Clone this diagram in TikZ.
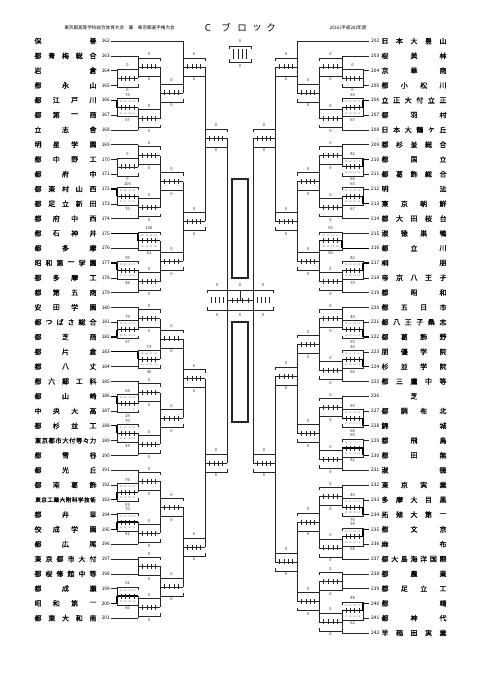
\documentclass[tikz,border=0pt]{standalone}
\usepackage{fontspec}
\newfontfamily\jp{Noto Sans CJK JP}
\newfontfamily\jpn{Noto Sans CJK JP}[FakeBold=0.6]
\tikzset{
 ln/.style={line width=0.45pt, draw=black!85},
 bl/.style={line width=1.3pt, draw=black},
 sc/.style={font=\jp\fontsize{4}{4}\selectfont, inner sep=0pt, text=black!85},
 num/.style={font=\jp\fontsize{4.8}{4.8}\selectfont, inner sep=0pt},
 qd/.style={font=\jp\fontsize{2.4}{2.4}\selectfont, inner sep=0pt, text=black!55},
 nmst/.style={font=\jpn\fontsize{7}{7}\selectfont, inner sep=0pt},
 champ/.style={line width=1.3pt, draw=black!85},
 hdr/.style={font=\jp\fontsize{4.6}{4.6}\selectfont, inner sep=0pt},
 ttl/.style={font=\jp\fontsize{9.5}{9.5}\selectfont, inner sep=0pt},
}
% spread name: x1, x2 (char centres), y, list of chars
\newcommand\nm[4]{%
  \gdef\nmcnt{0}%
  \foreach \cc in {#4}{\xdef\nmcnt{\the\numexpr\nmcnt+1\relax}}%
  \ifnum\nmcnt=1
    \node[nmst] at ({(#1+#2)/2},#3) {#4};%
  \else
    \pgfmathsetmacro\nmsp{(#2-#1)/(\nmcnt-1)}%
    \pgfmathsetmacro\nmfs{min(7,\nmsp*0.92)}%
    \foreach \cc [count=\ii from 0] in {#4}{\node[nmst,font=\jpn\fontsize{\nmfs}{\nmfs}\selectfont] at ({#1+\nmsp*\ii},#3) {\cc};}%
  \fi
}
% left entry: y, number, line end, bold, name
\newcommand\Lent[5]{%
  \nm{38}{93}{#1}{#5}%
  \node[num,anchor=east] at (110,#1) {#2};%
  \ifnum#4=1 \draw[bl] (111,#1) -- (#3,#1);\else \draw[ln] (111,#1) -- (#3,#1);\fi
}
% right entry
\newcommand\Rent[5]{%
  \nm{385}{443}{#1}{#5}%
  \node[num,anchor=west] at (371,#1) {#2};%
  \ifnum#4=1 \draw[bl] (369,#1) -- (#3,#1);\else \draw[ln] (369,#1) -- (#3,#1);\fi
}
% match: x of joining vertical, x of other end, y top, y bottom, y middle, score top, score bottom, winner (0/1/2)
\newcommand\Mt[8]{%
  \ifnum#8=1 \tikzset{sA/.style=bl,sM/.style=bl}\else\tikzset{sA/.style=ln}\fi
  \ifnum#8=2 \tikzset{sB/.style=bl,sM/.style=bl}\else\tikzset{sB/.style=ln}\fi
  \ifnum#8=0 \tikzset{sM/.style=ln}\fi
  \draw[sA] (#1,#3) -- (#1,#5);
  \draw[sB] (#1,#5) -- (#1,#4);
  \draw[sM] (#1,#5) -- (#2,#5);
  \foreach \f in {0.2,0.4,0.6,0.8}{\draw[ln] ({#1+(#2-#1)*\f},#5-2.5) -- ++(0,5);}
  \draw[ln] (#1,#5-6) |- (#2,#5-9) -- (#2,#5-6);
  \draw[ln] (#1,#5+6) |- (#2,#5+9) -- (#2,#5+6);
  \node[sc] at ({(#1+#2)/2},#5-12.5) {#6};
  \node[sc] at ({(#1+#2)/2},#5+12.5) {#7};
  \ifnum#8>0
    \pgfmathtruncatemacro\qa{#6/4}\pgfmathtruncatemacro\qd{#6-3*\qa}%
    \pgfmathtruncatemacro\qb{#7/4}\pgfmathtruncatemacro\qe{#7-3*\qb}%
    \foreach \f/\qq/\qr in {0.2/\qa/\qb,0.4/\qa/\qb,0.6/\qa/\qb,0.8/\qd/\qe}{%
      \node[qd] at ({#1+(#2-#1)*\f},#5-5.6) {\qq};
      \node[qd] at ({#1+(#2-#1)*\f},#5+5.6) {\qr};}%
  \fi
}
\begin{document}
\begin{tikzpicture}[x=1pt,y=-1pt]
\useasboundingbox (0,0) rectangle (481,680);
\fill[white] (0,0) rectangle (481,680);

% header
\node[hdr] (h1) at (119.5,28) {東京都高等学校総合体育大会　兼　東京都選手権大会};
\node[ttl] (t1) at (208,28) {C};
\node[ttl] (t2) at (226,28) {ブ};
\node[ttl] (t3) at (242,28) {ロ};
\node[ttl] (t4) at (257,28) {ッ};
\node[ttl] (t5) at (271,28) {ク};
\node[hdr] (h2) at (348,28) {2016(平成28)年度};

% legend box
\draw[ln] (229,49) |- (251,46) -- (251,49);
\draw[ln] (229,59) |- (251,62) -- (251,59);
\foreach \f in {0.2,0.4,0.6,0.8}{\draw[ln] ({229+22*\f},49) -- ++(0,10);}
\node[sc] (lg1) at (240,41.5) {0};
\node[sc] (lg2) at (240,66.5) {0};

% left entries
\Lent{41}{162}{183}{0}{保,善}
\Lent{55.8}{163}{138}{0}{都,青,梅,総,合}
\Lent{70.6}{164}{117}{0}{岩,倉}
\Lent{85.4}{165}{117}{0}{都,永,山}
\Lent{100.2}{166}{117}{1}{都,江,戸,川}
\Lent{115}{167}{117}{0}{都,第,一,商}
\Lent{129.8}{168}{138}{0}{立,志,舎}
\Lent{144.6}{169}{138}{0}{明,星,学,園}
\Lent{159.4}{170}{117}{0}{都,中,野,工}
\Lent{174.2}{171}{117}{0}{都,府,中}
\Lent{189}{172}{117}{1}{都,東,村,山,西}
\Lent{203.8}{173}{117}{0}{都,足,立,新,田}
\Lent{218.6}{174}{138}{0}{都,府,中,西}
\Lent{233.4}{175}{138}{1}{都,石,神,井}
\Lent{248.2}{176}{138}{0}{都,多,摩}
\Lent{263}{177}{117}{1}{昭,和,第,一,学,園}
\Lent{277.8}{178}{117}{0}{都,多,摩,工}
\Lent{292.6}{179}{138}{0}{都,第,五,商}
\Lent{307.4}{180}{138}{0}{安,田,学,園}
\Lent{322.2}{181}{117}{0}{都,つ,ば,さ,総,合}
\Lent{337}{182}{117}{1}{都,芝,商}
\Lent{351.8}{183}{138}{1}{都,片,倉}
\Lent{366.6}{184}{138}{0}{都,八,丈}
\Lent{381.4}{185}{138}{0}{都,六,郷,工,科}
\Lent{396.2}{186}{117}{1}{都,山,崎}
\Lent{411}{187}{117}{0}{中,央,大,高}
\Lent{425.8}{188}{117}{1}{都,杉,並,工}
\Lent{440.6}{189}{117}{0}{東,京,都,市,大,付,等,々,力}
\Lent{455.4}{190}{138}{0}{都,雪,谷}
\Lent{470.2}{191}{138}{0}{都,光,丘}
\Lent{485}{192}{117}{0}{都,南,葛,飾}
\Lent{499.8}{193}{117}{1}{東,京,工,業,大,附,科,学,技,術}
\Lent{514.6}{194}{117}{0}{都,井,草}
\Lent{529.4}{195}{117}{1}{佼,成,学,園}
\Lent{544.2}{196}{138}{0}{都,広,尾}
\Lent{559}{197}{138}{0}{東,京,都,市,大,付}
\Lent{573.8}{198}{138}{0}{都,桜,修,館,中,等}
\Lent{588.6}{199}{117}{0}{都,成,瀬}
\Lent{603.4}{200}{117}{1}{昭,和,第,一}
\Lent{618.2}{201}{138}{0}{都,東,大,和,南}

% right entries
\Rent{41}{202}{297}{0}{日,本,大,豊,山}
\Rent{55.8}{203}{342}{0}{桜,美,林}
\Rent{70.6}{204}{363}{0}{京,華,商}
\Rent{85.4}{205}{363}{0}{都,小,松,川}
\Rent{100.2}{206}{363}{1}{立,正,大,付,立,正}
\Rent{115}{207}{363}{0}{都,羽,村}
\Rent{129.8}{208}{342}{0}{日,本,大,鶴,ヶ,丘}
\Rent{144.6}{209}{342}{0}{都,杉,並,総,合}
\Rent{159.4}{210}{363}{1}{都,国,立}
\Rent{174.2}{211}{363}{0}{都,葛,飾,総,合}
\Rent{189}{212}{363}{0}{明,法}
\Rent{203.8}{213}{363}{1}{東,京,朝,鮮}
\Rent{218.6}{214}{342}{0}{都,大,田,桜,台}
\Rent{233.4}{215}{342}{0}{淑,徳,巣,鴨}
\Rent{248.2}{216}{342}{1}{都,立,川}
\Rent{263}{217}{363}{1}{桐,朋}
\Rent{277.8}{218}{363}{0}{帝,京,八,王,子}
\Rent{292.6}{219}{342}{0}{都,昭,和}
\Rent{307.4}{220}{342}{0}{都,五,日,市}
\Rent{322.2}{221}{363}{0}{都,八,王,子,桑,志}
\Rent{337}{222}{363}{1}{都,葛,飾,野}
\Rent{351.8}{223}{363}{0}{朋,優,学,院}
\Rent{366.6}{224}{363}{1}{杉,並,学,院}
\Rent{381.4}{225}{342}{0}{都,三,鷹,中,等}
\Rent{396.2}{226}{342}{0}{芝}
\Rent{411}{227}{363}{0}{都,調,布,北}
\Rent{425.8}{228}{363}{1}{錦,城}
\Rent{440.6}{229}{363}{0}{都,飛,鳥}
\Rent{455.4}{230}{363}{1}{都,田,無}
\Rent{470.2}{231}{342}{0}{淑,徳}
\Rent{485}{232}{342}{0}{東,京,実,業}
\Rent{499.8}{233}{363}{0}{多,摩,大,目,黒}
\Rent{514.6}{234}{363}{1}{拓,殖,大,第,一}
\Rent{529.4}{235}{363}{1}{都,文,京}
\Rent{544.2}{236}{363}{0}{麻,布}
\Rent{559}{237}{342}{0}{都,大,島,海,洋,国,際}
\Rent{573.8}{238}{342}{0}{都,農,業}
\Rent{588.6}{239}{342}{0}{都,足,立,工}
\Rent{603.4}{240}{363}{1}{都,靖}
\Rent{618.2}{241}{363}{0}{都,神,代}
\Rent{633}{242}{342}{0}{早,稲,田,実,業}

% left round 1
\Mt{117}{138}{70.6}{85.4}{78}{0}{0}{0}
\Mt{117}{138}{100.2}{115}{107.6}{75}{57}{1}
\Mt{117}{138}{159.4}{174.2}{166.8}{0}{0}{0}
\Mt{117}{138}{189}{203.8}{196.4}{100}{70}{1}
\Mt{117}{138}{263}{277.8}{270.4}{99}{46}{1}
\Mt{117}{138}{322.2}{337}{329.6}{75}{97}{2}
\Mt{117}{138}{396.2}{411}{403.6}{64}{29}{1}
\Mt{117}{138}{425.8}{440.6}{433.2}{70}{43}{1}
\Mt{117}{138}{485}{499.8}{492.4}{76}{83}{2}
\Mt{117}{138}{514.6}{529.4}{522}{70}{81}{2}
\Mt{117}{138}{588.6}{603.4}{596}{52}{60}{2}
% left round 2
\Mt{138}{160}{55.8}{78}{66.9}{0}{0}{0}
\Mt{138}{160}{107.6}{129.8}{118.7}{0}{0}{0}
\Mt{138}{160}{144.6}{166.8}{155.7}{0}{0}{0}
\Mt{138}{160}{196.4}{218.6}{207.5}{0}{0}{0}
\Mt{138}{160}{233.4}{248.2}{240.8}{106}{61}{1}
\Mt{138}{160}{270.4}{292.6}{281.5}{0}{0}{0}
\Mt{138}{160}{307.4}{329.6}{318.5}{0}{0}{0}
\Mt{138}{160}{351.8}{366.6}{359.2}{73}{40}{1}
\Mt{138}{160}{381.4}{403.6}{392.5}{0}{0}{0}
\Mt{138}{160}{433.2}{455.4}{444.3}{0}{0}{0}
\Mt{138}{160}{470.2}{492.4}{481.3}{0}{0}{0}
\Mt{138}{160}{522}{544.2}{533.1}{0}{0}{0}
\Mt{138}{160}{559}{573.8}{566.4}{0}{0}{0}
\Mt{138}{160}{596}{618.2}{607.1}{0}{0}{0}
% left round 3
\Mt{160}{183}{66.9}{118.7}{92.8}{0}{0}{0}
\Mt{160}{183}{155.7}{207.5}{181.6}{0}{0}{0}
\Mt{160}{183}{240.8}{281.5}{261.2}{0}{0}{0}
\Mt{160}{183}{318.5}{359.2}{338.9}{0}{0}{0}
\Mt{160}{183}{392.5}{444.3}{418.4}{0}{0}{0}
\Mt{160}{183}{481.3}{533.1}{507.2}{0}{0}{0}
\Mt{160}{183}{566.4}{607.1}{586.8}{0}{0}{0}
% left round 4
\Mt{183}{205}{41}{92.8}{66.9}{0}{0}{0}
\Mt{183}{205}{181.6}{261.2}{221.4}{0}{0}{0}
\Mt{183}{205}{338.9}{418.4}{378.6}{0}{0}{0}
\Mt{183}{205}{507.2}{586.8}{547}{0}{0}{0}
% left round 5
\Mt{205}{227}{66.9}{221.4}{138}{0}{0}{0}
\Mt{205}{227}{378.6}{547}{463}{0}{0}{0}

% right round 1
\Mt{363}{342}{70.6}{85.4}{78}{0}{0}{0}
\Mt{363}{342}{100.2}{115}{107.6}{94}{67}{1}
\Mt{363}{342}{159.4}{174.2}{166.8}{82}{66}{1}
\Mt{363}{342}{189}{203.8}{196.4}{63}{67}{2}
\Mt{363}{342}{263}{277.8}{270.4}{82}{75}{1}
\Mt{363}{342}{322.2}{337}{329.6}{44}{53}{2}
\Mt{363}{342}{351.8}{366.6}{359.2}{34}{65}{2}
\Mt{363}{342}{411}{425.8}{418.4}{55}{68}{2}
\Mt{363}{342}{440.6}{455.4}{448}{69}{82}{2}
\Mt{363}{342}{499.8}{514.6}{507.2}{46}{76}{2}
\Mt{363}{342}{529.4}{544.2}{536.8}{94}{58}{1}
\Mt{363}{342}{603.4}{618.2}{610.8}{88}{62}{1}
% right round 2
\Mt{342}{319}{55.8}{78}{66.9}{0}{0}{0}
\Mt{342}{319}{107.6}{129.8}{118.7}{0}{0}{0}
\Mt{342}{319}{144.6}{166.8}{155.7}{0}{0}{0}
\Mt{342}{319}{196.4}{218.6}{207.5}{0}{0}{0}
\Mt{342}{319}{233.4}{248.2}{240.8}{55}{90}{2}
\Mt{342}{319}{270.4}{292.6}{281.5}{0}{0}{0}
\Mt{342}{319}{307.4}{329.6}{318.5}{0}{0}{0}
\Mt{342}{319}{359.2}{381.4}{370.3}{0}{0}{0}
\Mt{342}{319}{396.2}{418.4}{407.3}{0}{0}{0}
\Mt{342}{319}{448}{470.2}{459.1}{0}{0}{0}
\Mt{342}{319}{485}{507.2}{496.1}{0}{0}{0}
\Mt{342}{319}{536.8}{559}{547.9}{0}{0}{0}
\Mt{342}{319}{573.8}{588.6}{581.2}{0}{0}{0}
\Mt{342}{319}{610.8}{633}{621.9}{0}{0}{0}
% right round 3
\Mt{319}{297}{66.9}{118.7}{92.8}{0}{0}{0}
\Mt{319}{297}{155.7}{207.5}{181.6}{0}{0}{0}
\Mt{319}{297}{240.8}{281.5}{261.2}{0}{0}{0}
\Mt{319}{297}{318.5}{370.3}{344.4}{0}{0}{0}
\Mt{319}{297}{407.3}{459.1}{433.2}{0}{0}{0}
\Mt{319}{297}{496.1}{547.9}{522}{0}{0}{0}
\Mt{319}{297}{581.2}{621.9}{601.6}{0}{0}{0}
% right round 4
\Mt{297}{275}{41}{92.8}{66.9}{0}{0}{0}
\Mt{297}{275}{181.6}{261.2}{221.4}{0}{0}{0}
\Mt{297}{275}{344.4}{433.2}{376}{0}{0}{0}
\Mt{297}{275}{522}{601.6}{561.8}{0}{0}{0}
% right round 5
\Mt{275}{253}{66.9}{221.4}{138}{0}{0}{0}
\Mt{275}{253}{376}{561.8}{463}{0}{0}{0}

% semifinal verticals
\draw[ln] (227,138) -- (227,463);
\draw[ln] (253,138) -- (253,463);

% final block
\draw[ln] (227,300) -- (253,300);
\draw[ln] (240,290) -- (240,300);
\foreach \f in {0.2,0.4,0.6,0.8}{
  \draw[ln] ({207+20*\f},297) -- ++(0,6);
  \draw[ln] ({227+26*\f},297.5) -- ++(0,5);
  \draw[ln] ({253+20*\f},297) -- ++(0,6);}
\draw[ln] (207,293) |- (273,290) -- (273,293);
\draw[ln] (207,307) |- (273,310) -- (273,307);
\node[sc] (s1) at (217,285) {0};
\node[sc] (s2) at (240,285) {0};
\node[sc] (s3) at (263,285) {0};
\node[sc] (s4) at (217,315) {0};
\node[sc] (s5) at (240,315) {0};
\node[sc] (s6) at (263,315) {0};

% champion boxes
\draw[champ] (232,179) rectangle (248,278);
\draw[champ] (232,322) rectangle (248,422);
\end{tikzpicture}
\end{document}
